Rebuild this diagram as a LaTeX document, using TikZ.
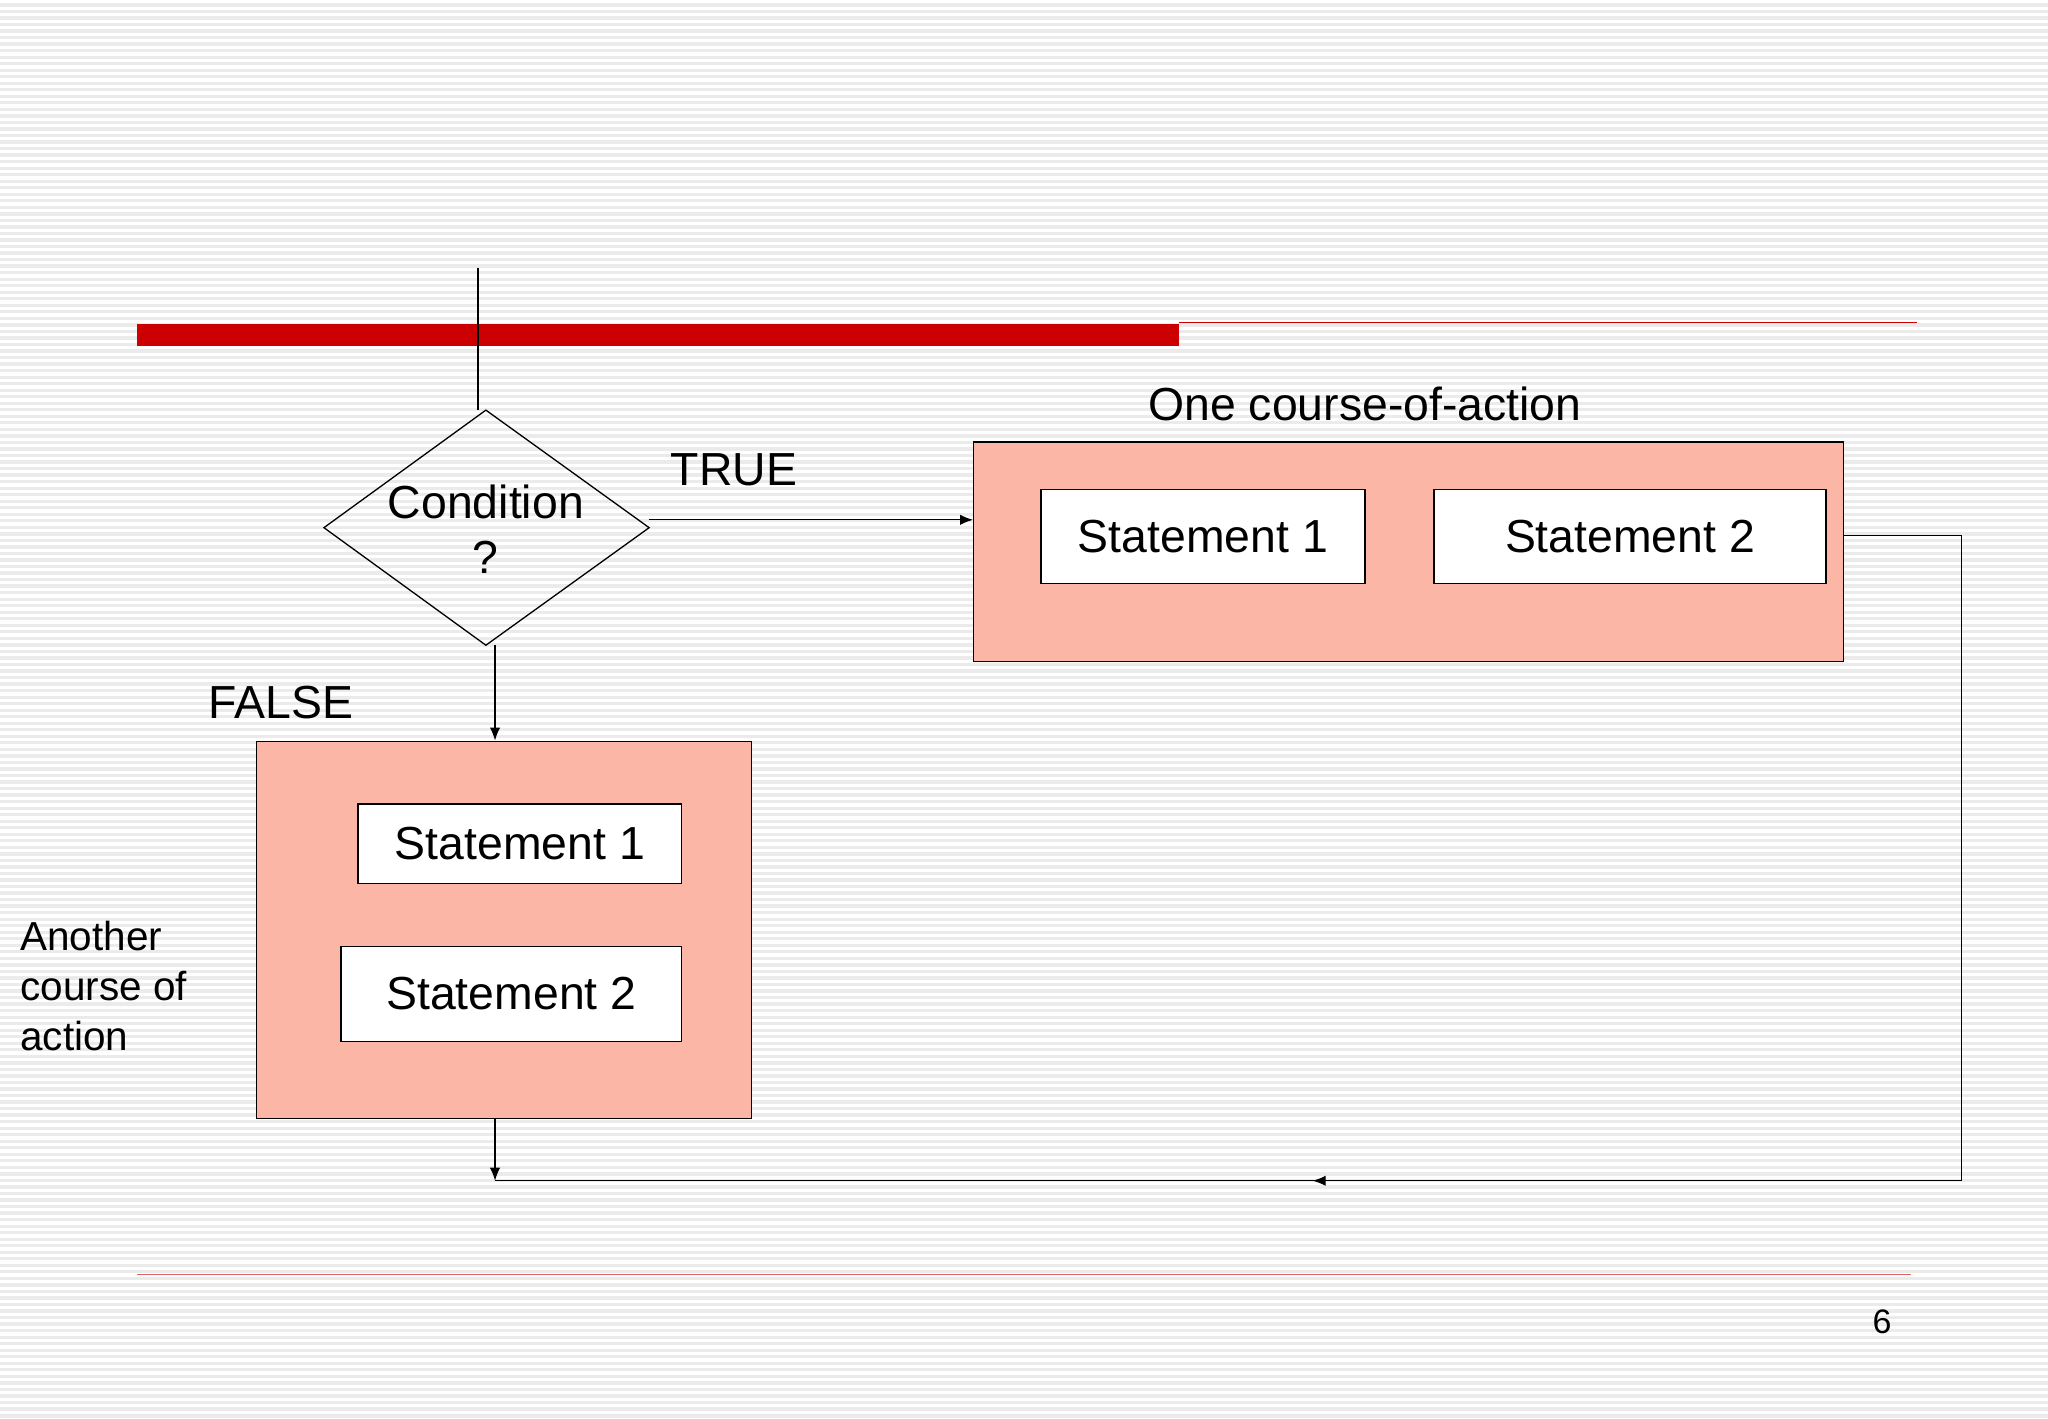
\documentclass[tikz,border=0pt]{standalone}
\usepackage{fontspec}
\setmainfont{Liberation Sans}
\usetikzlibrary{arrows.meta,shapes.geometric}
\definecolor{salmon}{HTML}{FBB6A6}
\definecolor{barred}{HTML}{CC0000}
\tikzset{x=1pt,y=-1pt,
 grp/.style={draw=black,fill=salmon,line width=1pt},
 stm/.style={draw=black,fill=white,line width=1pt,font=\fontsize{35.5}{40}\selectfont},
 lbl/.style={font=\fontsize{35.5}{42}\selectfont},
 conn/.style={line width=1pt},
 arr/.style={conn,-{Latex[length=10pt,width=8pt]}}}
\begin{document}
\begin{tikzpicture}
\fill[gray!16] (0,0) rectangle (1568,1086);
\foreach \i in {0,...,216}{\fill[white] (0,\i*5) rectangle (1568,\i*5+2.5);}
\useasboundingbox (0,0) rectangle (1568,1086);
% header bar
\fill[barred] (105,248) rectangle (903,265);
\draw[barred,line width=1pt] (903,247) -- (1468,247);
\draw[barred!60,line width=0.8pt] (105,976) -- (1463,976);
% diamond
\coordinate (top0) at (366,205);
\draw[line width=1pt] (372,314) -- (497,404) -- (372,494) -- (248,404) -- cycle;
\node[lbl,align=center] (cond) at (372,405) {Condition\\?};
\coordinate (dtop) at (366,314);
\draw[conn] (top0) -- (dtop);
\coordinate (dright) at (497,398);
\coordinate (dbot) at (379,494);
% right group
\node[grp,minimum width=666,minimum height=168,anchor=north west] (rg) at (745,338) {};
\node[lbl] (one) at (1045,309) {One course-of-action};
\node[stm,minimum width=248,minimum height=72] (rs1) at (921,411) {Statement 1};
\node[stm,minimum width=300,minimum height=72] (rs2) at (1248,411) {Statement 2};
\node[lbl] (true) at (562,360) {TRUE};
\draw[arr] (dright) -- (rg.west |- dright);
% left group
\node[grp,minimum width=379,minimum height=289,anchor=north west] (lg) at (196,567) {};
\node[stm,minimum width=248,minimum height=61] (ls1) at (398,646) {Statement 1};
\node[stm,minimum width=261,minimum height=73] (ls2) at (391.5,761) {Statement 2};
\node[lbl] (false) at (215,538) {FALSE};
\draw[arr] (dbot) -- (dbot |- lg.north);
\node[font=\fontsize{31}{38.5}\selectfont,align=left,anchor=west] (another) at (12,755) {Another\\course of\\action};
% merge
\coordinate (m) at (379,904);
\coordinate (rc) at (1502,410);
\draw[arr] (lg.south -| m) -- (m);
\draw[conn] (rg.east |- rc) -- (rc) -- (1502,904) -- (m);
\draw[arr] (1502,904) -- (1005,904);
\node[font=\fontsize{26}{30}\selectfont] (pg) at (1441,1012) {6};
\end{tikzpicture}
\end{document}
